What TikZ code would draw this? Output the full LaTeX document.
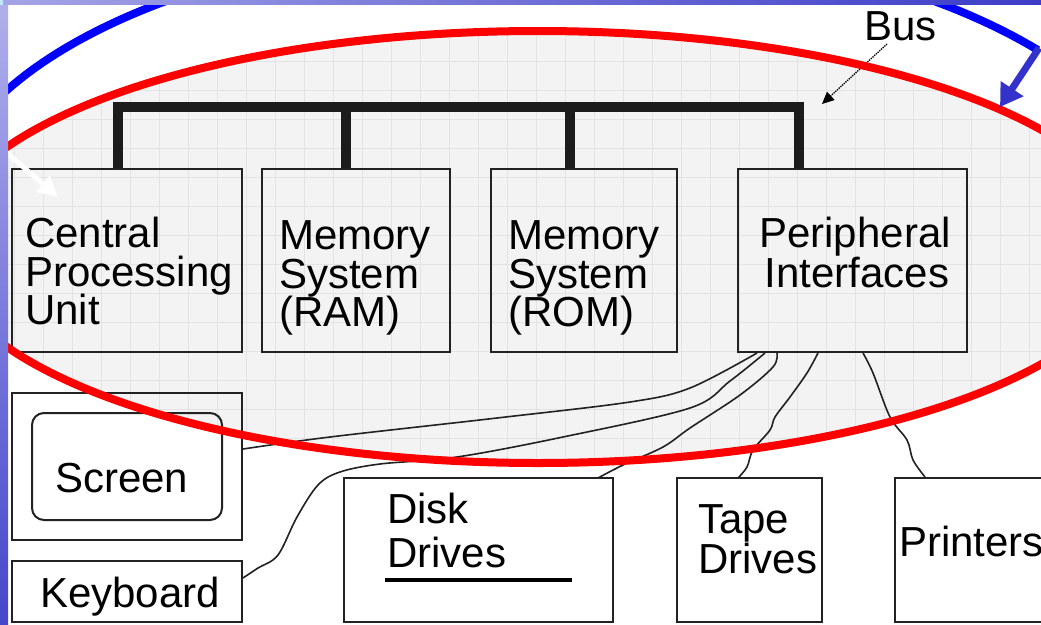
\documentclass[tikz,border=0pt]{standalone}
\usepackage{fontspec}
\setmainfont{Liberation Sans}
\usetikzlibrary{arrows.meta}
\definecolor{boxline}{HTML}{222222}
\definecolor{busc}{HTML}{1C1C1C}
\definecolor{gridfill}{HTML}{F3F3F3}
\definecolor{gridline}{HTML}{E3E3E3}
\definecolor{redc}{HTML}{FF0000}
\definecolor{bluec}{HTML}{0000FF}
\definecolor{arrowblue}{HTML}{3333CC}
\definecolor{stripTop}{HTML}{B0B0EC}
\definecolor{stripBot}{HTML}{4646CC}
\definecolor{bandL}{HTML}{A4A4E6}
\definecolor{bandR}{HTML}{3C3CC8}
\begin{document}
\begin{tikzpicture}[x=1pt,y=-1pt,
  box/.style={draw=boxline, line width=2pt, inner sep=0pt, rectangle},
  lbl/.style={font=\fontsize{42}{38.5}\selectfont, inner sep=0pt, anchor=base west, text=black},
  clbl/.style={font=\fontsize{42}{38.5}\selectfont, inner sep=0pt, anchor=base, text=black},
  conn/.style={draw=boxline, line width=1.6pt},
  busline/.style={draw=busc, line width=10pt},
  gridln/.style={draw=gridline, line width=0.8pt}
]
\useasboundingbox (0,0) rectangle (1041,624);
\begin{scope}
\clip (0,0) rectangle (1041,624);
\fill[white] (0,0) rectangle (1041,624);
% grey gridded ellipse
\fill[gridfill] (538,247) ellipse [x radius=599pt, y radius=216pt];
\begin{scope}
\clip (538,247) ellipse [x radius=599pt, y radius=216pt];
\foreach \i in {0,...,36} { \draw[gridln] ({14+29*\i},0) -- ({14+29*\i},470); }
\foreach \j in {0,...,16} { \draw[gridln] (0,{3+29*\j}) -- (1041,{3+29*\j}); }
\end{scope}

% top row boxes
\node[box, minimum width=230pt, minimum height=183pt] (cpu) at (127,260.5) {};
\node[box, minimum width=188pt, minimum height=183pt] (ram) at (356,260.5) {};
\node[box, minimum width=186pt, minimum height=183pt] (rom) at (584,260.5) {};
\node[box, minimum width=229pt, minimum height=183pt] (per) at (852.5,260.5) {};

\node[lbl] (cpu1) at (25,247) {Central};
\node[lbl] (cpu2) at (25,286) {Processing};
\node[lbl] (cpu3) at (25,324) {Unit};
\node[lbl] (ram1) at (279,249) {Memory};
\node[lbl] (ram2) at (279,288) {System};
\node[lbl] (ram3) at (279,326) {(RAM)};
\node[lbl] (rom1) at (508,249) {Memory};
\node[lbl] (rom2) at (508,288) {System};
\node[lbl] (rom3) at (508,326) {(ROM)};
\node[clbl] (per1) at (855,247) {Peripheral};
\node[clbl] (per2) at (857,287) {Interfaces};

% bottom boxes
\node[box, minimum width=230pt, minimum height=147pt] (scr) at (127,466.5) {};
\node[box, rounded corners=12pt, minimum width=190pt, minimum height=107pt] (scrin) at (127,466.5) {};
\node[lbl] (scrt) at (55,492) {Screen};
\node[box, minimum width=230pt, minimum height=61pt] (kbd) at (127,591.5) {};
\node[lbl] (kbdt) at (40,607) {Keyboard};
\node[box, minimum width=269pt, minimum height=144pt] (disk) at (478.5,550) {};
\node[lbl] (disk1) at (387,523) {Disk};
\node[lbl] (disk2) at (387,567) {Drives};
\draw[draw=black, line width=4pt] (385,580) -- (572,580);
\node[box, minimum width=145pt, minimum height=144pt] (tape) at (749.5,550) {};
\node[lbl] (tape1) at (698,533) {Tape};
\node[lbl] (tape2) at (698,573) {Drives};
\node[box, minimum width=170pt, minimum height=144pt] (prn) at (980,550) {};
\node[lbl] (prnt) at (899,556) {Printers};

% bus
\coordinate (bl) at (118,107);
\coordinate (br) at (799,107);
\draw[busline] (cpu.north -| bl) -- (bl) -- (br) -- (per.north -| br);
\coordinate (bram) at (346,107);
\coordinate (brom) at (570,107);
\draw[busline] (bram) -- (ram.north -| bram);
\draw[busline] (brom) -- (rom.north -| brom);

% Bus label
\node[lbl] (busl) at (864,40) {Bus};
\coordinate (busfrom) at (887,44);
\coordinate (busto) at (822,104);
\draw[draw=black, densely dotted, line width=1.3pt, -{Triangle[length=12pt,width=11pt]}] (busfrom) -- (busto);

% peripheral connectors
\coordinate (p1) at (757,353);
\coordinate (p2) at (765,353);
\coordinate (p3) at (777,353);
\coordinate (p4) at (818,353);
\coordinate (p5) at (863,353);
\coordinate (e1) at (243,449);
\coordinate (e2) at (243,578);
\coordinate (e3) at (598,478);
\coordinate (e4) at (738,478);
\coordinate (e5) at (925,477);
\draw[conn] plot[smooth, tension=0.55] coordinates {(p1) (690,388) (630,402) (497,418) (330,437) (e1)};
\draw[conn] plot[smooth, tension=0.55] coordinates {(p2) (730,381) (690,408) (563,437) (457,457) (380,464) (340,472) (318,485) (297,517) (278,555) (258,568) (e2)};
\draw[conn] plot[smooth, tension=0.55] coordinates {(p3) (773,367) (740,395) (690,428) (663,447) (623,465) (e3)};
\draw[conn] plot[smooth, tension=0.55] coordinates {(p4) (807,373) (790,397) (775,417) (770,430) (753,450) (747,467) (e4)};
\draw[conn] plot[smooth, tension=0.55] coordinates {(p5) (873,373) (890,417) (907,440) (913,460) (e5)};

% red ellipse
\draw[draw=redc, line width=8pt] (538,247) ellipse [x radius=599pt, y radius=216pt];

% blue arc and arrow
\draw[draw=bluec, line width=8pt] plot[domain=160:37, samples=90] ({550+611*cos(\x)},{218-279*sin(\x)});
\coordinate (bafrom) at (1039,48);
\coordinate (bato) at (1000,107);
\draw[draw=arrowblue, line width=7pt, -{Triangle[length=22pt,width=26pt]}] (bafrom) -- (bato);

% white arrow
\coordinate (wafrom) at (-8,140);
\coordinate (wato) at (58,197);
\draw[draw=white, line width=5pt, -{Triangle[length=20pt,width=20pt]}] (wafrom) -- (wato);

% slide strips
\shade[top color=stripTop, bottom color=stripBot] (0,0) rectangle (8,624);
\shade[left color=bandL, right color=bandR] (0,0) rectangle (1041,4);
\fill[cyan!25] (0,0) rectangle (3,5);
\end{scope}
\end{tikzpicture}
\end{document}
